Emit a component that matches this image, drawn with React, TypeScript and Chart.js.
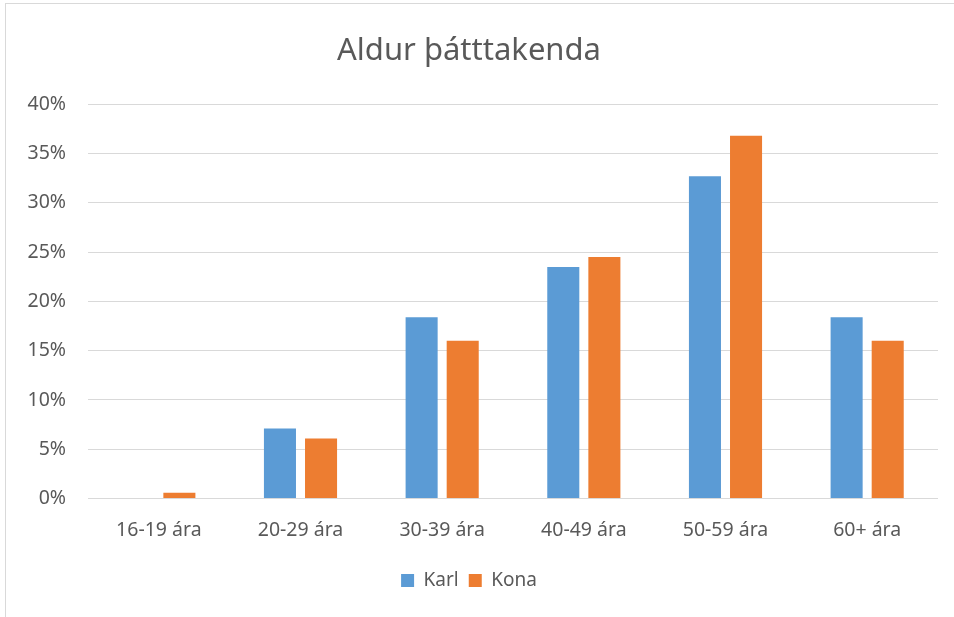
import React, { useEffect, useRef } from "react";
import { Chart, registerables } from "chart.js";

Chart.register(...registerables);

const categories = ["16-19 ára", "20-29 ára", "30-39 ára", "40-49 ára", "50-59 ára", "60+ ára"];
const karl = [0, 7.1, 18.4, 23.5, 32.7, 18.4];
const kona = [0.6, 6.1, 16.0, 24.5, 36.8, 16.0];
const seriesNames = ["Karl", "Kona"];
const title = "Aldur þátttakenda";

export default function App() {
  const ref = useRef<HTMLCanvasElement>(null);
  useEffect(() => {
    if (!ref.current) return;
    const font = "'Noto Sans', sans-serif";
    const chart = new Chart(ref.current, {
      type: "bar",
      data: {
        labels: categories,
        datasets: [
          { label: seriesNames[0], data: karl, backgroundColor: "#5B9BD5", categoryPercentage: 0.58, barPercentage: 0.78 },
          { label: seriesNames[1], data: kona, backgroundColor: "#ED7D31", categoryPercentage: 0.58, barPercentage: 0.78 },
        ],
      },
      options: {
        animation: false,
        responsive: false,
        layout: { padding: { top: 33, right: 16, bottom: 17, left: 0 } },
        plugins: {
          title: {
            display: true,
            text: title,
            color: "#595959",
            font: { family: font, size: 31, weight: "normal" },
            padding: { top: 0, bottom: 34 },
          },
          legend: {
            position: "bottom",
            labels: {
              color: "#595959",
              font: { family: font, size: 19 },
              boxWidth: 13,
              boxHeight: 13,
              padding: 10,
            },
          },
          tooltip: { enabled: false },
        },
        scales: {
          x: {
            afterFit: (s: any) => { s.height += 7; },
            grid: { display: false },
            border: { display: false },
            ticks: { color: "#595959", font: { family: font, size: 19.5 }, padding: 12 },
          },
          y: {
            min: 0,
            max: 40,
            afterFit: (s: any) => { s.width = 88; },
            grid: { color: "#d9d9d9", lineWidth: 1, drawTicks: false },
            border: { display: false },
            ticks: {
              stepSize: 5,
              color: "#595959",
              font: { family: font, size: 19.5 },
              padding: 22,
              callback: (v: any) => v + "%",
            },
          },
        },
      },
    });
    return () => chart.destroy();
  }, []);
  return (
    <div style={{ position: "absolute", left: 0, top: 0, width: 954, height: 617, background: "#fff" }}>
      <div style={{ position: "absolute", left: 5, top: 3, width: 960, height: 630, border: "1.5px solid #d9d9d9", boxSizing: "border-box" }} />
      <canvas ref={ref} width={954} height={617} style={{ position: "absolute", left: 0, top: 0 }} />
    </div>
  );
}
